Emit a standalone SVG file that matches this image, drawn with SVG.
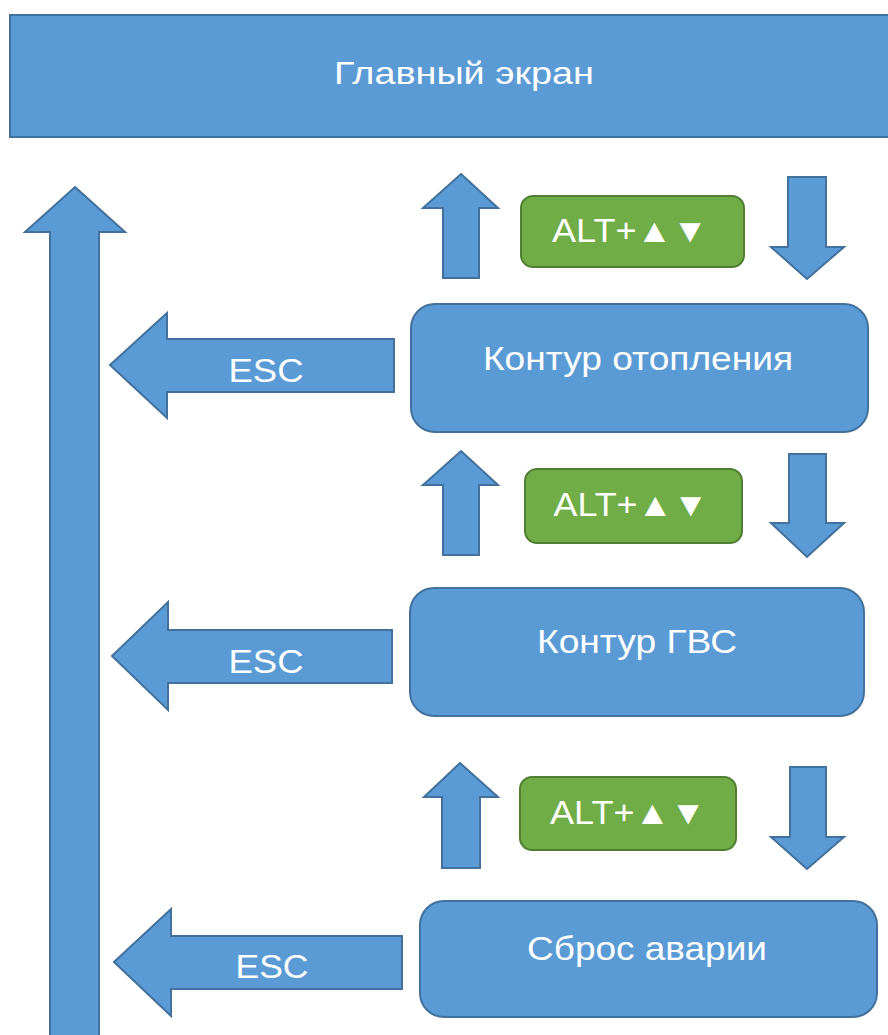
<svg xmlns="http://www.w3.org/2000/svg" width="888" height="1035" viewBox="0 0 888 1035">
<style>
.blue{fill:#5B9BD5;stroke:#41719C;stroke-width:2}
.green{fill:#70AD47;stroke:#507E32;stroke-width:2}
.t{font-family:"Liberation Sans",Arial,sans-serif;fill:#FFFFFF;text-anchor:middle}
</style>
<rect width="888" height="1035" fill="#FFFFFF"/>
<g id="main">
<rect class="blue" x="10" y="15" width="890" height="122"/>
<text class="t" x="464" y="84" font-size="32" textLength="260" lengthAdjust="spacingAndGlyphs">Главный экран</text>
</g>
<g id="connectors">
<polygon class="blue" points="75,187 125,232 99,232 99,1045 50,1045 50,232 25,232"/>
<polygon class="blue" points="461,174 498,208 479,208 479,278 443,278 443,208 423,208"/>
<polygon class="blue" points="788,177 826,177 826,247 844,247 807,279 771,247 788,247"/>
<polygon class="blue" points="461,451 498,485 479,485 479,555 443,555 443,485 423,485"/>
<polygon class="blue" points="789,454 826,454 826,523 844,523 807,557 771,523 789,523"/>
<polygon class="blue" points="460,763 498,797 480,797 480,868 442,868 442,797 424,797"/>
<polygon class="blue" points="790,767 826,767 826,837 844,837 807,869 771,837 790,837"/>
<g id="esc1">
<polygon class="blue" points="110,365 167,313 167,339 394,339 394,392 167,392 167,418"/>
<text class="t" x="266" y="382" font-size="33" textLength="75" lengthAdjust="spacingAndGlyphs">ESC</text>
</g>
<g id="esc2">
<polygon class="blue" points="112,656 168,602 168,630 392,630 392,683 168,683 168,710"/>
<text class="t" x="266" y="673" font-size="33" textLength="75" lengthAdjust="spacingAndGlyphs">ESC</text>
</g>
<g id="esc3">
<polygon class="blue" points="114,962 171,909 171,936 402,936 402,989 171,989 171,1016"/>
<text class="t" x="272" y="978" font-size="33" textLength="73" lengthAdjust="spacingAndGlyphs">ESC</text>
</g>
</g>
<g id="alt1">
<rect class="green" x="521" y="196" width="223" height="71" rx="12"/>
<text class="t" x="630" y="242" font-size="33" textLength="156" lengthAdjust="spacingAndGlyphs">ALT+▲▼</text>
</g>
<g id="heating">
<rect class="blue" x="411" y="304" width="457" height="128" rx="24"/>
<text class="t" x="638" y="370" font-size="34" textLength="310" lengthAdjust="spacingAndGlyphs">Контур отопления</text>
</g>
<g id="alt2">
<rect class="green" x="525" y="469" width="217" height="74" rx="12"/>
<text class="t" x="631" y="516" font-size="33" textLength="155" lengthAdjust="spacingAndGlyphs">ALT+▲▼</text>
</g>
<g id="dhw">
<rect class="blue" x="410" y="588" width="454" height="128" rx="24"/>
<text class="t" x="637" y="653" font-size="33" textLength="200" lengthAdjust="spacingAndGlyphs">Контур ГВС</text>
</g>
<g id="alt3">
<rect class="green" x="520" y="777" width="216" height="73" rx="12"/>
<text class="t" x="628" y="824" font-size="33" textLength="156" lengthAdjust="spacingAndGlyphs">ALT+▲▼</text>
</g>
<g id="reset">
<rect class="blue" x="420" y="901" width="457" height="116" rx="24"/>
<text class="t" x="647" y="960" font-size="33" textLength="240" lengthAdjust="spacingAndGlyphs">Сброс аварии</text>
</g>
</svg>
